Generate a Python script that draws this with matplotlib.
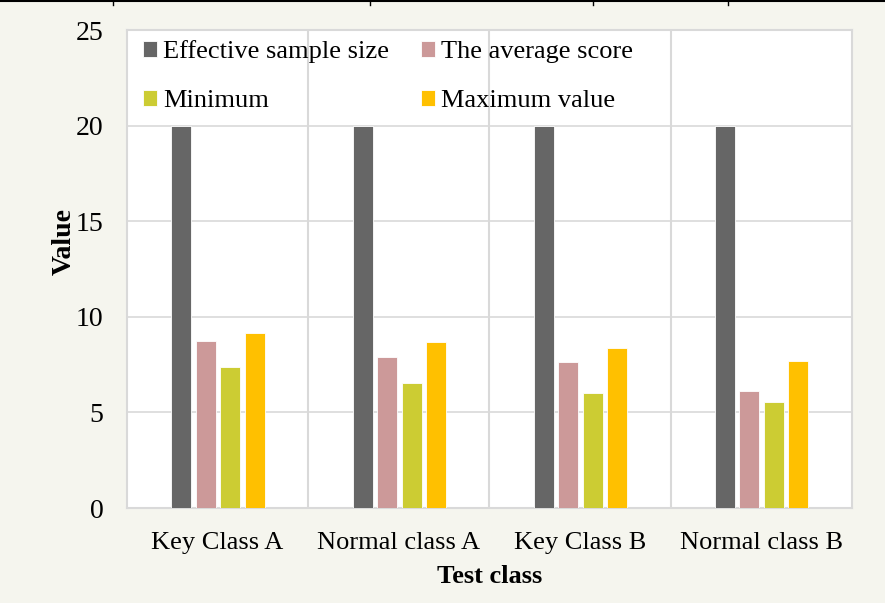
import numpy as np
import matplotlib.pyplot as plt

categories = ['Key Class A', 'Normal class A', 'Key Class B', 'Normal class B']
sample_size = [20, 20, 20, 20]
avg_score = [8.73, 7.9, 7.64, 6.12]
minimum = [7.37, 6.54, 6.01, 5.54]
maximum = [9.15, 8.68, 8.37, 7.69]

series = ['Effective sample size', 'The average score', 'Minimum', 'Maximum value']
colors = ['#666666', '#cc9999', '#cccc33', '#ffc000']

plt.rcParams['font.family'] = ['Liberation Serif', 'DejaVu Serif']
fs = 19

fig = plt.figure(figsize=(8.85, 6.03), dpi=100, facecolor='#f5f5ee')
ax = fig.add_axes([0.1435, 0.1575, 0.8192, 0.7925])
ax.set_facecolor('white')

x = np.arange(len(categories))
offsets = [-0.2, -0.066, 0.07, 0.204]
bars = []
for vals, off, c, lab in zip([sample_size, avg_score, minimum, maximum], offsets, colors, series):
    b = ax.bar(x + off, vals, width=0.11, color=c, edgecolor='white', linewidth=0.6, label=lab, zorder=3)
    bars.append(b)

ax.set_xlim(-0.5, 3.5)
ax.set_ylim(0, 25)
ax.set_yticks([0, 5, 10, 15, 20, 25])
ax.set_xticks(x)
ax.set_xticklabels(categories)
ax.set_xticks([0.5, 1.5, 2.5], minor=True)
ax.grid(axis='y', color='#d9d9d9', linewidth=1.2, zorder=0)
ax.grid(axis='x', which='minor', color='#d9d9d9', linewidth=1.5, zorder=0)
ax.tick_params(axis='both', which='both', length=0, labelsize=fs)
ax.tick_params(axis='y', labelsize=20, pad=17)
ax.tick_params(axis='x', pad=17)
for s in ax.spines.values():
    s.set_color('#d9d9d9')
    s.set_linewidth(1.5)

ax.set_ylabel('Value', fontsize=20, fontweight='bold', labelpad=-1)
ax.yaxis.label.set_y(0.557)
ax.set_xlabel('Test class', fontsize=fs, fontweight='bold', labelpad=8)

# row-wise legend order: matplotlib fills columns first
order = [0, 2, 1, 3]
ax.legend([bars[i] for i in order], [series[i] for i in order],
          loc='upper left', bbox_to_anchor=(0.0, 1.012), ncol=2, frameon=False,
          fontsize=fs, handlelength=0.55, handleheight=0.55, handletextpad=0.22,
          columnspacing=1.2, labelspacing=1.0, borderaxespad=0.2)

# table border remnants at the top of the image
fig.add_artist(plt.Line2D([0, 1], [0.998, 0.998], color='black', linewidth=1.5))
for xp in [113, 370, 593, 728]:
    fig.add_artist(plt.Line2D([xp / 885, xp / 885], [0.998, 0.991], color='black', linewidth=1))

fig.savefig('out.png', dpi=100, facecolor=fig.get_facecolor())
